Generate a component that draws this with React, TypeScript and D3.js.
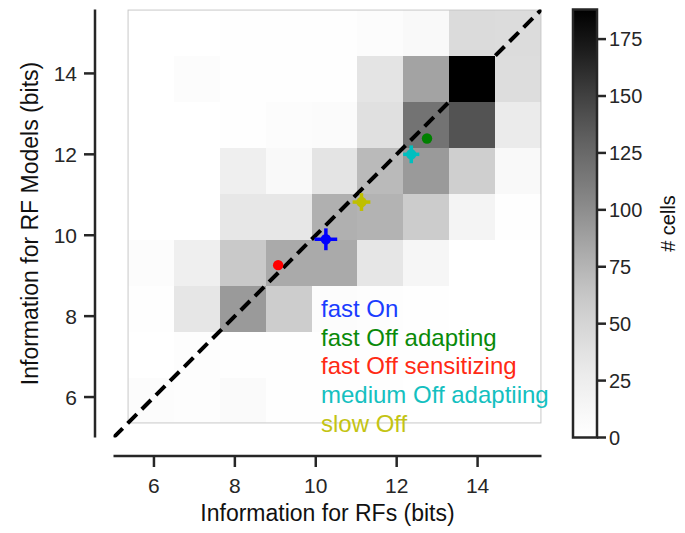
import React from "react";
import * as d3 from "d3";

// ---- data ----
const binEdges = [5.36, 6.494, 7.628, 8.762, 9.896, 11.03, 12.164, 13.298, 14.432, 15.566];
// counts[row][col]; row 0 = lowest y-bin, col 0 = lowest x-bin
const counts = [
  [4, 3, 8, 2, 1, 1, 0, 0, 0],
  [0, 3, 2, 1, 2, 2, 1, 0, 0],
  [1, 33, 92, 57, 4, 3, 2, 0, 0],
  [4, 23, 60, 82, 82, 33, 13, 0, 0],
  [0, 0, 32, 32, 78, 76, 58, 17, 1],
  [0, 0, 23, 9, 36, 71, 92, 55, 10],
  [0, 0, 2, 5, 6, 40, 118, 139, 28],
  [0, 4, 2, 1, 1, 36, 86, 188, 42],
  [0, 0, 2, 1, 1, 4, 10, 44, 43],
];
const cellTypes = ["fast On", "fast Off adapting", "fast Off sensitizing", "medium Off adaptiing", "slow Off"];
const meanRF = [10.25, 12.75, 9.07, 12.36, 11.13];
const meanModel = [9.9, 12.39, 9.26, 12.0, 10.82];
const semRF = [0.28, 0.04, 0.04, 0.2, 0.22];
const semModel = [0.27, 0.04, 0.04, 0.22, 0.22];
const typeColors = ["#0000ff", "#008000", "#ff0000", "#00bfbf", "#bfbf00"];
const textColors = ["#1a3cff", "#0a8a0a", "#ff2a14", "#14c0c0", "#c4c414"];
const xTicks = [6, 8, 10, 12, 14];
const yTicks = [6, 8, 10, 12, 14];
const cbTicks = [0, 25, 50, 75, 100, 125, 150, 175];
const cbMax = 188;
const diagonal = [5, 15.58];

const FONT = "'Liberation Sans', Arial, Helvetica, sans-serif";
const INK = "#262626";

export default function App() {
  const x = d3.scaleLinear().domain([5, 15.58]).range([113.5, 541.5]);
  const y = d3.scaleLinear().domain([5, 15.58]).range([437.5, 9.5]);
  const color = (v: number) => d3.interpolateGreys(v / cbMax);
  const cb = d3.scaleLinear().domain([0, cbMax]).range([437.5, 9.5]);

  const cells: any[] = [];
  counts.forEach((row, r) =>
    row.forEach((v, c) => {
      cells.push({ r, c, v });
    })
  );

  const gradStops = d3.range(0, 1.0001, 0.05);
  const lineGen = d3.line<number>().x((d) => x(d)).y((d) => y(d));

  return (
    <svg width={685} height={533} style={{ position: "absolute", left: 0, top: 0, background: "#fff" }} fontFamily={FONT}>
      <defs>
        <linearGradient id="cbgrad" x1="0" y1="1" x2="0" y2="0">
          {gradStops.map((t) => (
            <stop key={t} offset={t} stopColor={d3.interpolateGreys(t)} />
          ))}
        </linearGradient>
        <clipPath id="axclip">
          <rect x={x(5)} y={y(15.58)} width={x(15.58) - x(5)} height={y(5) - y(15.58)} />
        </clipPath>
      </defs>

      {/* heatmap */}
      <g shapeRendering="crispEdges">
        {cells.map((d) => (
          <rect
            key={d.r + "-" + d.c}
            x={x(binEdges[d.c])}
            y={y(binEdges[d.r + 1])}
            width={x(binEdges[d.c + 1]) - x(binEdges[d.c]) + 0.5}
            height={y(binEdges[d.r]) - y(binEdges[d.r + 1]) + 0.5}
            fill={color(d.v)}
          />
        ))}
      </g>
      <rect
        x={x(binEdges[0])}
        y={y(binEdges[binEdges.length - 1])}
        width={x(binEdges[binEdges.length - 1]) - x(binEdges[0])}
        height={y(binEdges[0]) - y(binEdges[binEdges.length - 1])}
        fill="none"
        stroke="#c8c8c8"
        strokeWidth={1}
      />

      {/* diagonal */}
      <path d={lineGen(diagonal) || ""} stroke="#000" strokeWidth={4} strokeDasharray="13,7" fill="none" clipPath="url(#axclip)" />

      {/* error bars + markers */}
      {cellTypes.map((t, i) => (
        <g key={t}>
          <line x1={x(meanRF[i] - semRF[i])} x2={x(meanRF[i] + semRF[i])} y1={y(meanModel[i])} y2={y(meanModel[i])} stroke={typeColors[i]} strokeWidth={3.5} />
          <line x1={x(meanRF[i])} x2={x(meanRF[i])} y1={y(meanModel[i] - semModel[i])} y2={y(meanModel[i] + semModel[i])} stroke={typeColors[i]} strokeWidth={3.5} />
          <circle cx={x(meanRF[i])} cy={y(meanModel[i])} r={5.2} fill={typeColors[i]} />
        </g>
      ))}

      {/* legend text */}
      {cellTypes.map((t, i) => (
        <text key={t} x={321} y={317 + i * 28.7} fontSize={24} fill={textColors[i]}>
          {t}
        </text>
      ))}

      {/* left spine */}
      <line x1={95} x2={95} y1={y(15.58)} y2={y(5)} stroke={INK} strokeWidth={2.5} />
      {yTicks.map((t) => (
        <g key={t}>
          <line x1={84} x2={95} y1={y(t)} y2={y(t)} stroke={INK} strokeWidth={2.5} />
          <text x={77} y={y(t)} textAnchor="end" dominantBaseline="central" fontSize={21} fill={INK}>
            {t}
          </text>
        </g>
      ))}
      <text transform={`translate(37.5,${(y(5) + y(15.58)) / 2}) rotate(-90)`} textAnchor="middle" fontSize={23} fill="#111">
        Information for RF Models (bits)
      </text>

      {/* bottom spine */}
      <line x1={x(5)} x2={x(15.58)} y1={456} y2={456} stroke={INK} strokeWidth={2.5} />
      {xTicks.map((t) => (
        <g key={t}>
          <line x1={x(t)} x2={x(t)} y1={456} y2={467} stroke={INK} strokeWidth={2.5} />
          <text x={x(t)} y={493} textAnchor="middle" fontSize={21} fill={INK}>
            {t}
          </text>
        </g>
      ))}
      <text x={(x(5) + x(15.58)) / 2} y={521} textAnchor="middle" fontSize={23} fill="#111">
        Information for RFs (bits)
      </text>

      {/* colorbar */}
      <rect x={573} y={cb(cbMax)} width={24} height={cb(0) - cb(cbMax)} fill="url(#cbgrad)" stroke={INK} strokeWidth={2.5} />
      {cbTicks.map((t) => (
        <g key={t}>
          <line x1={597} x2={606} y1={cb(t)} y2={cb(t)} stroke={INK} strokeWidth={2.5} />
          <text x={609} y={cb(t)} dominantBaseline="central" fontSize={20} fill={INK}>
            {t}
          </text>
        </g>
      ))}
      <text transform={`translate(675,${(cb(0) + cb(cbMax)) / 2}) rotate(-90)`} textAnchor="middle" fontSize={20} fill="#111">
        # cells
      </text>
    </svg>
  );
}
